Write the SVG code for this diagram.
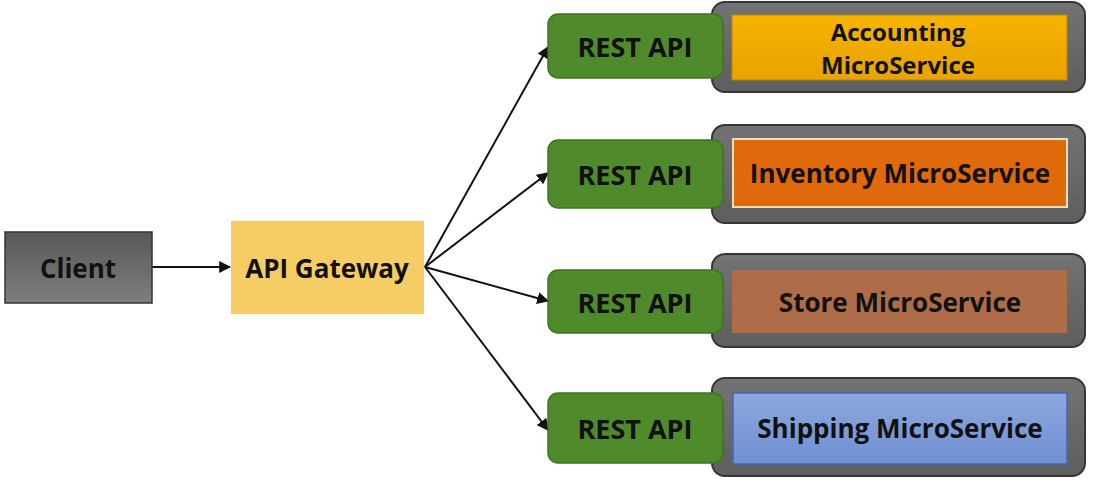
<svg xmlns="http://www.w3.org/2000/svg" width="1100" height="499" viewBox="0 0 1100 499">
  <style>
    .lbl { font-family: "Open Sans", "Noto Sans", "Liberation Sans", sans-serif; font-weight: 700; font-size: 26px; fill: #111; text-anchor: middle; dominant-baseline: central; }
    .big { font-size: 27px; }
    .two { font-size: 24px; }
    .rest { fill: #4f8a2b; stroke: #3f7424; stroke-width: 1.5; }
    .shell { fill: url(#shellGrad); stroke: #363636; stroke-width: 2; }
    .wire { stroke: #111; stroke-width: 2; fill: none; marker-end: url(#arrow); }
  </style>
  <defs>
    <marker id="arrow" viewBox="0 0 10 10" refX="9" refY="5" markerWidth="6" markerHeight="6" orient="auto" markerUnits="strokeWidth">
      <path d="M0,0 L10,5 L0,10 Z" fill="#111"/>
    </marker>
    <linearGradient id="shellGrad" x1="0" y1="0" x2="0" y2="1">
      <stop offset="0" stop-color="#737373"/>
      <stop offset="1" stop-color="#5e5e5e"/>
    </linearGradient>
    <linearGradient id="clientGrad" x1="0" y1="0" x2="0" y2="1">
      <stop offset="0" stop-color="#585858"/>
      <stop offset="1" stop-color="#7e7e7e"/>
    </linearGradient>
    <linearGradient id="acctGrad" x1="0" y1="0" x2="0" y2="1">
      <stop offset="0" stop-color="#f6b400"/>
      <stop offset="1" stop-color="#e9a200"/>
    </linearGradient>
    <linearGradient id="shipGrad" x1="0" y1="0" x2="0" y2="1">
      <stop offset="0" stop-color="#8ea8de"/>
      <stop offset="1" stop-color="#6f8fd2"/>
    </linearGradient>
  </defs>

  <rect width="1100" height="499" fill="#ffffff"/>

  <g id="connectors">
    <line class="wire" x1="152" y1="267" x2="230" y2="267"/>
    <line class="wire" x1="425" y1="267" x2="548" y2="47"/>
    <line class="wire" x1="425" y1="267" x2="548" y2="173"/>
    <line class="wire" x1="425" y1="267" x2="548" y2="301"/>
    <line class="wire" x1="425" y1="267" x2="548" y2="430"/>
  </g>

  <g id="client">
    <rect x="5" y="232" width="147" height="71" fill="url(#clientGrad)" stroke="#333" stroke-width="1.5"/>
    <text class="lbl" x="78" y="268">Client</text>
  </g>

  <g id="gateway">
    <rect x="231" y="221" width="193" height="93" fill="#f6cd64"/>
    <text class="lbl" x="327" y="268">API Gateway</text>
  </g>

  <g id="accounting">
    <rect class="shell" x="712" y="2" width="373" height="90" rx="13"/>
    <rect class="rest" x="548" y="14" width="175" height="64" rx="10"/>
    <text class="lbl big" x="635" y="46">REST API</text>
    <rect x="732" y="15" width="335" height="65" fill="url(#acctGrad)" stroke="#b98500" stroke-width="1"/>
    <text class="lbl two" x="898" y="31">Accounting</text>
    <text class="lbl two" x="898" y="64">MicroService</text>
  </g>

  <g id="inventory">
    <rect class="shell" x="712" y="125" width="373" height="98" rx="13"/>
    <rect class="rest" x="548" y="140" width="175" height="68" rx="10"/>
    <text class="lbl big" x="635" y="174">REST API</text>
    <rect x="733" y="139" width="334" height="68" fill="#e0690c" stroke="#e9e2b4" stroke-width="2"/>
    <text class="lbl" x="900" y="173">Inventory MicroService</text>
  </g>

  <g id="store">
    <rect class="shell" x="712" y="254" width="373" height="93" rx="13"/>
    <rect class="rest" x="548" y="270" width="175" height="63" rx="10"/>
    <text class="lbl big" x="635" y="302">REST API</text>
    <rect x="732" y="270" width="335" height="63" fill="#ae6c48"/>
    <text class="lbl" x="900" y="302">Store MicroService</text>
  </g>

  <g id="shipping">
    <rect class="shell" x="712" y="378" width="373" height="98" rx="13"/>
    <rect class="rest" x="548" y="393" width="175" height="70" rx="10"/>
    <text class="lbl big" x="635" y="428">REST API</text>
    <rect x="733" y="393" width="334" height="71" fill="url(#shipGrad)" stroke="#4466b5" stroke-width="1.5"/>
    <text class="lbl" x="900" y="428">Shipping MicroService</text>
  </g>
</svg>
